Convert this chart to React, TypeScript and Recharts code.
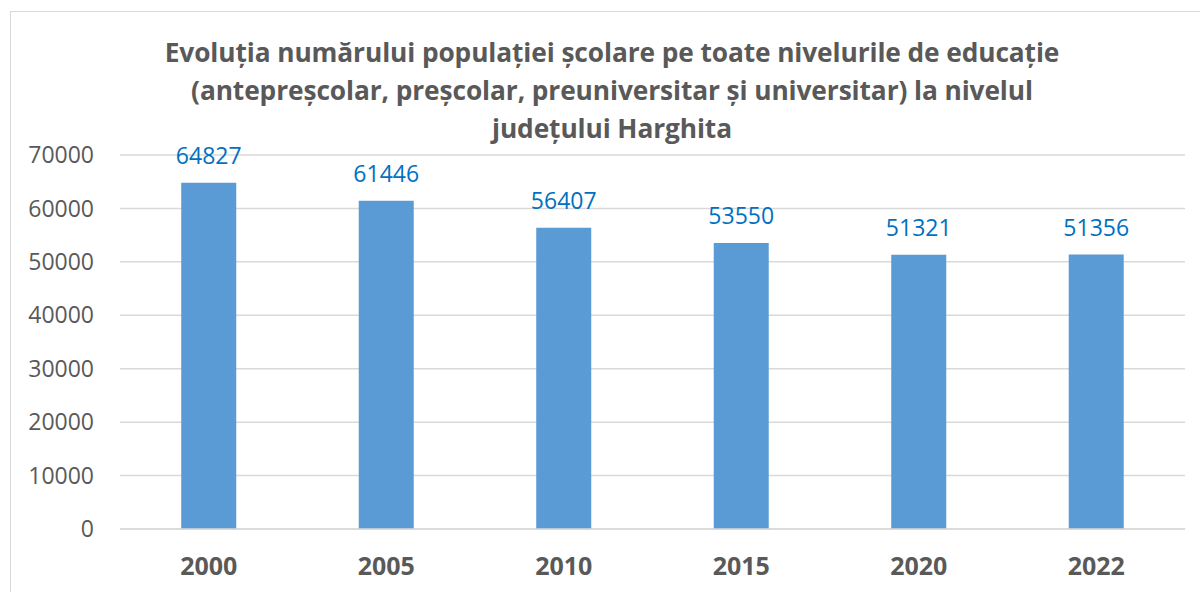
import React from 'react';
import { BarChart, Bar, XAxis, YAxis, CartesianGrid, LabelList } from 'recharts';

const years = ['2000', '2005', '2010', '2015', '2020', '2022'];
const students = [64827, 61446, 56407, 53550, 51321, 51356];
const yTicks = [0, 10000, 20000, 30000, 40000, 50000, 60000, 70000];
const titleLines = [
  'Evoluția numărului populației școlare pe toate nivelurile de educație',
  '(antepreșcolar, preșcolar, preuniversitar și universitar) la nivelul',
  'județului Harghita'
];

const data = years.map((year, i) => ({ year, value: students[i] }));

const FONT = '"Open Sans", "Noto Sans", sans-serif';

export default function App() {
  return (
    <div style={{
      position: 'absolute',
      left: 0,
      top: 0,
      width: 1200,
      height: 592,
      overflow: 'hidden',
      background: '#fff',
      fontFamily: FONT
    }}>
      {/* chart frame, cut off on the right and bottom */}
      <div style={{
        position: 'absolute',
        left: 10,
        top: 11,
        width: 1300,
        height: 700,
        border: '1.5px solid #d9d9d9',
        boxSizing: 'border-box'
      }} />
      <div style={{
        position: 'absolute',
        left: 0,
        top: 33,
        width: 1224,
        textAlign: 'center',
        color: '#595959',
        fontWeight: 700,
        fontSize: 26.3,
        lineHeight: '38px',
        letterSpacing: '-0.1px',
        whiteSpace: 'nowrap'
      }}>
        {titleLines.map(line => <div key={line}>{line}</div>)}
      </div>
      <div style={{ position: 'absolute', left: 0, top: 0 }}>
        <BarChart
          width={1200}
          height={592}
          data={data}
          margin={{ top: 155, right: 15, bottom: 0, left: 0 }}
          barCategoryGap="34.5%"
        >
          <CartesianGrid vertical={false} stroke="#d9d9d9" strokeWidth={1.5} />
          <XAxis
            dataKey="year"
            height={63}
            axisLine={{ stroke: '#d9d9d9', strokeWidth: 1.5 }}
            tickLine={false}
            tickSize={0}
            tickMargin={28}
            tick={{ fill: '#595959', fontSize: 25, fontWeight: 700, fontFamily: FONT }}
          />
          <YAxis
            width={120}
            domain={[0, 70000]}
            ticks={yTicks}
            axisLine={false}
            tickLine={false}
            tickSize={0}
            tickMargin={26}
            tick={{ fill: '#595959', fontSize: 23, fontFamily: FONT }}
          />
          <Bar dataKey="value" fill="#5b9bd5" isAnimationActive={false}>
            <LabelList
              dataKey="value"
              position="top"
              offset={19}
              style={{ fill: '#0070c0', fontSize: 23, fontFamily: FONT }}
            />
          </Bar>
        </BarChart>
      </div>
    </div>
  );
}
